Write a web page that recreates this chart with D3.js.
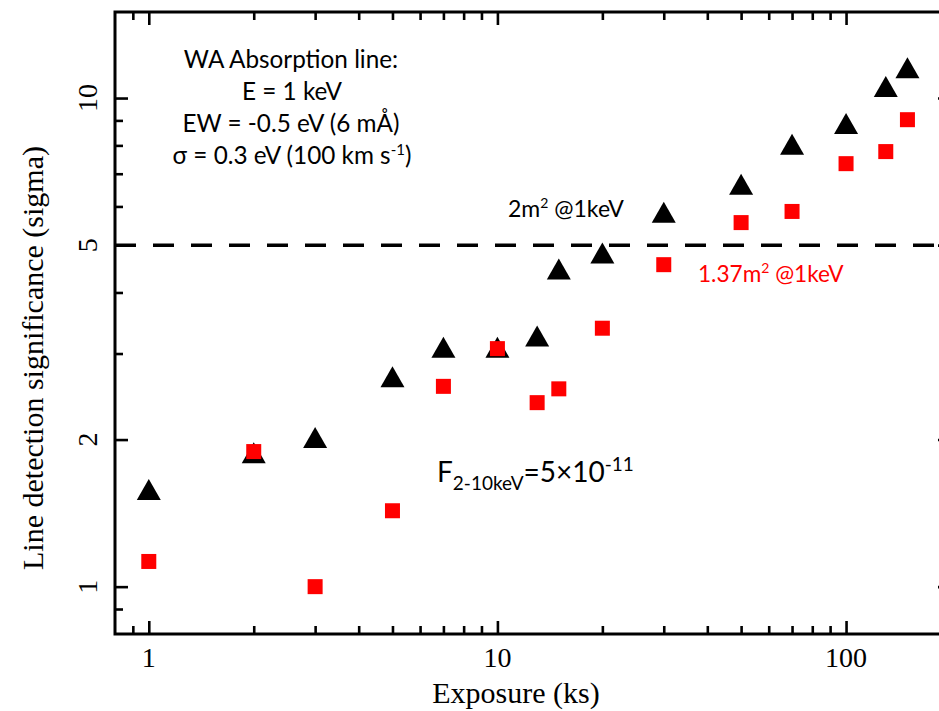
<!DOCTYPE html>
<html>
<head>
<meta charset="utf-8">
<script src="https://cdn.jsdelivr.net/npm/d3@7"></script>
<style>
  html, body { margin: 0; padding: 0; background: #fff; }
  svg { display: block; }
</style>
</head>
<body>
<svg id="chart" width="939" height="711"></svg>
<script>
// ---- data ----
const exposures = [1, 2, 3, 5, 7, 10, 13, 15, 20, 30, 50, 70, 100, 130, 150];
const sig2m2 = [1.58, 1.88, 2.02, 2.69, 3.09, 3.09, 3.26, 4.47, 4.82, 5.84, 6.66, 8.04, 8.87, 10.56, 11.54];
const sig137m2 = [1.126, 1.89, 1.0, 1.43, 2.57, 3.07, 2.38, 2.54, 3.38, 4.56, 5.56, 5.86, 7.34, 7.77, 9.03];
const xMajor = [1, 10, 100];
const xMinor = [0.9, 2, 3, 4, 5, 6, 7, 8, 9, 20, 30, 40, 50, 60, 70, 80, 90, 200];
const yMajor = [1, 2, 5, 10];
const yMinor = [0.9, 3, 4, 6, 7, 8, 9];
const xTickLabels = ["1", "10", "100"];
const yTickLabels = ["1", "2", "5", "10"];
const threshold = 5;

// ---- layout ----
const L = 115, R = 951, T = 12, B = 634;
const svg = d3.select("#chart");
const x = d3.scaleLog().domain([0.8, 200]).range([L, R]);
const y = d3.scaleLog().domain([0.8, 15]).range([B, T]);

const serif = "'Liberation Serif', 'Times New Roman', serif";
const sans = "Lato, 'Open Sans', sans-serif";

function tickAxis(axisFn, scale, vals, size, tx, ty) {
  const g = svg.append("g").attr("transform", `translate(${tx},${ty})`)
    .call(axisFn(scale).tickValues(vals).tickSizeInner(size).tickSizeOuter(0).tickFormat(""));
  g.select(".domain").remove();
  g.selectAll(".tick line").attr("stroke", "#000").attr("stroke-width", 2.6);
  return g;
}
tickAxis(d3.axisBottom, x, xMajor, -13, 0, B);
tickAxis(d3.axisBottom, x, xMinor, -8, 0, B);
tickAxis(d3.axisTop, x, xMajor, -13, 0, T);
tickAxis(d3.axisTop, x, xMinor, -8, 0, T);
tickAxis(d3.axisLeft, y, yMajor, -13, L, 0);
tickAxis(d3.axisLeft, y, yMinor, -8, L, 0);
tickAxis(d3.axisRight, y, yMajor, -13, R, 0);
tickAxis(d3.axisRight, y, yMinor, -8, R, 0);

// frame
svg.append("rect").attr("x", L).attr("y", T).attr("width", R - L).attr("height", B - T)
  .attr("fill", "none").attr("stroke", "#000").attr("stroke-width", 3);

// tick labels
svg.append("g").selectAll("text").data(xMajor).join("text")
  .attr("x", d => x(d)).attr("y", 667)
  .attr("text-anchor", "middle").attr("font-family", serif).attr("font-size", 28)
  .text((d, i) => xTickLabels[i]);
svg.append("g").selectAll("text").data(yMajor).join("text")
  .attr("transform", d => `translate(97,${y(d)}) rotate(-90)`)
  .attr("text-anchor", "middle").attr("font-family", serif).attr("font-size", 28)
  .text((d, i) => yTickLabels[i]);

// axis titles
svg.append("text").attr("x", 516).attr("y", 703).attr("text-anchor", "middle")
  .attr("font-family", serif).attr("font-size", 30).text("Exposure (ks)");
svg.append("text").attr("transform", "translate(43,358) rotate(-90)").attr("text-anchor", "middle")
  .attr("font-family", serif).attr("font-size", 30).text("Line detection significance (sigma)");

// threshold dashed line
svg.append("line").attr("x1", L).attr("x2", R).attr("y1", y(threshold)).attr("y2", y(threshold))
  .attr("stroke", "#000").attr("stroke-width", 3.5).attr("stroke-dasharray", "21 17");

// triangles
const tw = 24, th = 21;
svg.append("g").selectAll("path").data(exposures).join("path")
  .attr("d", (d, i) => {
    const cx = x(d), cy = y(sig2m2[i]);
    return `M${cx},${cy - th / 2}L${cx + tw / 2},${cy + th / 2}L${cx - tw / 2},${cy + th / 2}Z`;
  })
  .attr("fill", "#000");

// squares
const s = 15;
svg.append("g").selectAll("rect").data(exposures).join("rect")
  .attr("x", d => x(d) - s / 2).attr("y", (d, i) => y(sig137m2[i]) - s / 2)
  .attr("width", s).attr("height", s).attr("fill", "#ff0000");

// annotations
const ann = svg.append("text").attr("font-family", sans).attr("font-size", 24.3)
  .attr("text-anchor", "middle").attr("fill", "#000");
ann.append("tspan").attr("x", 291).attr("y", 68).text("WA Absorption line:");
ann.append("tspan").attr("x", 292).attr("y", 100).text("E = 1 keV");
ann.append("tspan").attr("x", 291).attr("y", 132).text("EW = -0.5 eV (6 mÅ)");
const l4 = svg.append("text").attr("font-family", sans).attr("font-size", 24.3)
  .attr("text-anchor", "middle").attr("x", 292).attr("y", 164);
l4.append("tspan").text("σ = 0.3 eV (100 km s");
l4.append("tspan").attr("font-size", 15).attr("dy", -9).text("-1");
l4.append("tspan").attr("dy", 9).text(")");

const a1 = svg.append("text").attr("font-family", sans).attr("font-size", 23)
  .attr("x", 508).attr("y", 217).attr("fill", "#000");
a1.append("tspan").text("2m");
a1.append("tspan").attr("font-size", 14).attr("dy", -9).text("2");
a1.append("tspan").attr("dy", 9).text(" @1keV");

const a2 = svg.append("text").attr("font-family", sans).attr("font-size", 22.6)
  .attr("x", 698).attr("y", 282).attr("fill", "#ff0000");
a2.append("tspan").text("1.37m");
a2.append("tspan").attr("font-size", 14).attr("dy", -9).text("2");
a2.append("tspan").attr("dy", 9).text(" @1keV");

const f = svg.append("text").attr("font-family", sans).attr("font-size", 28)
  .attr("x", 437).attr("y", 482).attr("fill", "#000");
f.append("tspan").text("F");
f.append("tspan").attr("font-size", 19).attr("dy", 8).text("2-10keV");
f.append("tspan").attr("dy", -8).text("=5×10");
f.append("tspan").attr("font-size", 19).attr("dy", -11).text("-11");
</script>
</body>
</html>
